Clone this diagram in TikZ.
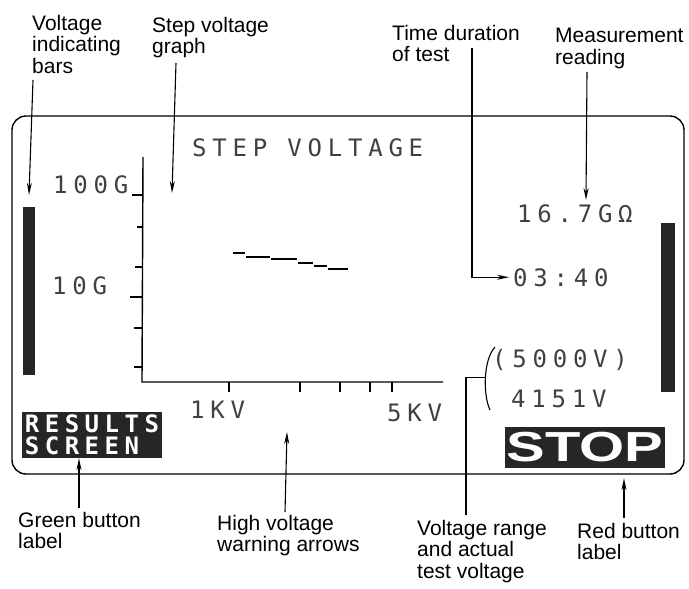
\documentclass[tikz,border=0pt]{standalone}
\usepackage{fontspec}
\setmainfont{Liberation Sans}
\newfontfamily\lcdfont{DejaVu Sans Mono}[LetterSpace=24]
\newfontfamily\btnfont{DejaVu Sans Mono}[LetterSpace=23]
\usetikzlibrary{arrows.meta, positioning}

\begin{document}
\begin{tikzpicture}[
    x=1pt, y=-1pt,
    lbl/.style={inner sep=0pt, anchor=north west, align=left,
                font=\fontsize{21}{21.5}\selectfont},
    lcd/.style={inner sep=0pt, anchor=base west, text=black!75,
                font=\lcdfont\fontsize{24}{24}\selectfont},
    bar/.style={fill=black!85, inner sep=0pt},
    btn/.style={fill=black!85, text=white, inner sep=0pt},
    arrow/.style={-{Stealth[length=12pt, width=5pt]}, line width=1.1pt},
    tick/.style={line width=1.2pt},
]
    \useasboundingbox (0,0) rectangle (689,589);

    \node[draw, line width=1.4pt, rounded corners=14pt, inner sep=0pt,
          minimum width=672pt, minimum height=358pt] (scr) at (348,295) {};
    \node[bar, minimum width=12pt, minimum height=168pt] (lbar) at (29,291) {};
    \node[bar, minimum width=14pt, minimum height=169pt] (rbar) at (668,307.5) {};

    \node[lcd] (title) at (192,156) {STEP VOLTAGE};
    \node[lcd] (ytopval) at (53,193) {100G};
    \node[lcd] (ymidval) at (52,294) {10G};
    \node[lcd] (xlow) at (190,418) {1KV};
    \node[lcd] (xhigh) at (387,421) {5KV};
    \node[lcd] (reading) at (517,222) {16.7GΩ};
    \node[lcd] (clock) at (513,286) {03:40};
    \node[lcd] (range) at (492,367) {(5000V)};
    \node[lcd] (testv) at (511,407) {4151V};

    \coordinate (orig) at (142,382);
    \coordinate (ytop) at (143,157);
    \coordinate (xend) at (443,382);
    \draw[line width=1.4pt] (ytop) -- (orig) -- (xend);
    \foreach \y/\l in {195/11, 227/6, 267/8, 297/13, 328/9, 367/9}
        \draw[tick] (143,\y) -- ++(-\l,0);
    \foreach \x in {229, 300, 340, 370, 392}
        \draw[tick] (\x,382) -- ++(0,10);
    \foreach \xa/\xb/\y in {233/245/253, 246/270/257, 271/297/259,
                            298/313/263, 314/327/266, 328/348/269}
        \draw[line width=1.1pt] (\xa,\y) -- (\xb,\y);

    \node[btn, minimum width=140pt, minimum height=46pt, align=left,
          font=\btnfont\bfseries\fontsize{24}{22}\selectfont]
        (results) at (92,435) {RESULTS\\SCREEN};
    \node[btn, minimum width=160pt, minimum height=41pt,
          font=\bfseries\fontsize{42}{42}\selectfont]
        (stop) at (585,447.5) {\scalebox{1.38}[1]{STOP}};

    \node[lbl] (vbars) at (32,15) {Voltage\\indicating\\bars};
    \node[lbl] (stepgraph) at (152,17) {Step voltage\\graph};
    \node[lbl] (timedur) at (392,25) {Time duration\\of test};
    \node[lbl] (measread) at (555,28) {Measurement\\reading};
    \node[lbl] (greenlbl) at (18,512) {Green button\\label};
    \node[lbl] (hvwarn) at (217,515) {High voltage\\warning arrows};
    \node[lbl] (vrange) at (417,520) {Voltage range\\and actual\\test voltage};
    \node[lbl] (redlbl) at (577,523) {Red button\\label};

    \coordinate (sgtip) at (172,193);
    \coordinate (hvtip) at (287,432);
    \coordinate (brk) at (485.4,377.75);

    \draw[arrow] ([shift={(1,65)}]vbars.north west) -- ([yshift=12pt]lbar.north);
    \draw[arrow] ([shift={(24,46)}]stepgraph.north west) -- (sgtip);
    \draw[arrow] ([shift={(80,23)}]timedur.north west) |- ([xshift=-4pt]clock.west);
    \draw[arrow] ([shift={(32,44)}]measread.north west)
        -- ([shift={(69,-4)}]reading.north west);
    \draw[arrow] ([shift={(61,-4)}]greenlbl.north west) -- ([xshift=-13pt]results.south);
    \draw[arrow] ([shift={(68,-3)}]hvwarn.north west) -- (hvtip);
    \draw[arrow] ([shift={(47,-5)}]redlbl.north west) -- ([shift={(39,10)}]stop.south);
    \draw[line width=1.1pt] (495,347) .. controls (483,360) and (483,395) .. (490,410);
    \draw[line width=1.1pt] ([shift={(49,-5)}]vrange.north west) |- (brk);
\end{tikzpicture}
\end{document}
